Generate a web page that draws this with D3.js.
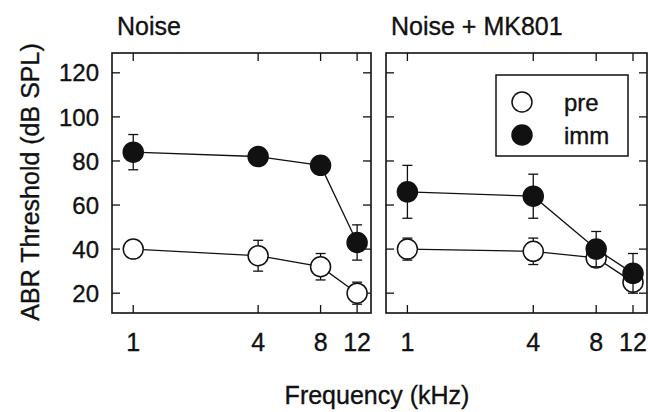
<!DOCTYPE html>
<html>
<head>
<meta charset="utf-8">
<script src="https://cdn.jsdelivr.net/npm/d3@7"></script>
<style>
  body { margin: 0; background: #fff; }
  text { font-family: "Liberation Sans", Arial, sans-serif; fill: #111; stroke: #111; stroke-width: 0.35px; }
</style>
</head>
<body>
<script>
// frequencies (kHz) and thresholds
const freqs = [1, 4, 8, 12];
const yTicks = [20, 40, 60, 80, 100, 120];

const noisePre    = [40, 37, 32, 20];
const noisePreErr = [3, 7, 6, 5];
const noiseImm    = [84, 82, 78, 43];
const noiseImmErr = [8, 3, 3, 8];

const mkPre    = [40, 39, 36, 25];
const mkPreErr = [5, 6, 4, 4];
const mkImm    = [66, 64, 40, 29];
const mkImmErr = [12, 10, 8, 9];

const panels = [
  { title: "Noise", x0: 112, x1: 371, pre: noisePre, preErr: noisePreErr, imm: noiseImm, immErr: noiseImmErr, yLabels: true, legend: false },
  { title: "Noise + MK801", x0: 386, x1: 647, pre: mkPre, preErr: mkPreErr, imm: mkImm, immErr: mkImmErr, yLabels: false, legend: true }
];

const W = 648, H = 412;
const plotTop = 53, plotBottom = 313;
const TICK = 8, R = 10;

const svg = d3.select("body").append("svg")
  .attr("width", W)
  .attr("height", H);

const y = d3.scaleLinear().domain([11, 129]).range([plotBottom, plotTop]);

panels.forEach(p => {
  const x = d3.scaleLog().domain([0.79, 14]).range([p.x0, p.x1]);
  const g = svg.append("g");

  // frame
  g.append("rect")
    .attr("x", p.x0).attr("y", plotTop)
    .attr("width", p.x1 - p.x0).attr("height", plotBottom - plotTop)
    .attr("fill", "none").attr("stroke", "#111").attr("stroke-width", 1.6);

  // inward ticks on all four sides
  g.selectAll(".xtb").data(freqs).enter().append("line")
    .attr("x1", d => x(d)).attr("x2", d => x(d))
    .attr("y1", plotBottom).attr("y2", plotBottom - TICK)
    .attr("stroke", "#111").attr("stroke-width", 1.3);
  g.selectAll(".xtt").data(freqs).enter().append("line")
    .attr("x1", d => x(d)).attr("x2", d => x(d))
    .attr("y1", plotTop).attr("y2", plotTop + TICK)
    .attr("stroke", "#111").attr("stroke-width", 1.3);
  g.selectAll(".ytl").data(yTicks).enter().append("line")
    .attr("x1", p.x0).attr("x2", p.x0 + TICK)
    .attr("y1", d => y(d)).attr("y2", d => y(d))
    .attr("stroke", "#111").attr("stroke-width", 1.3);
  g.selectAll(".ytr").data(yTicks).enter().append("line")
    .attr("x1", p.x1).attr("x2", p.x1 - TICK)
    .attr("y1", d => y(d)).attr("y2", d => y(d))
    .attr("stroke", "#111").attr("stroke-width", 1.3);

  // x tick labels
  g.selectAll(".xl").data(freqs).enter().append("text")
    .attr("x", d => x(d)).attr("y", 351)
    .attr("text-anchor", "middle")
    .style("font-size", "25px")
    .text(d => d);

  if (p.yLabels) {
    g.selectAll(".yl").data(yTicks).enter().append("text")
      .attr("x", p.x0 - 13).attr("y", d => y(d))
      .attr("dy", "0.36em")
      .attr("text-anchor", "end")
      .style("font-size", "24px")
      .text(d => d);
  }

  // panel title
  g.append("text")
    .attr("x", p.x0 + 5).attr("y", 35)
    .style("font-size", "25px")
    .text(p.title);

  const line = d3.line().x((d, i) => x(freqs[i])).y(d => y(d));

  const drawSeries = (vals, errs, fill) => {
    g.append("path").datum(vals)
      .attr("d", line)
      .attr("fill", "none").attr("stroke", "#111").attr("stroke-width", 1.3);
    const eb = g.append("g");
    vals.forEach((v, i) => {
      const cx = x(freqs[i]);
      eb.append("line")
        .attr("x1", cx).attr("x2", cx)
        .attr("y1", y(v - errs[i])).attr("y2", y(v + errs[i]))
        .attr("stroke", "#111").attr("stroke-width", 1.3);
      [v - errs[i], v + errs[i]].forEach(e => {
        eb.append("line")
          .attr("x1", cx - 5).attr("x2", cx + 5)
          .attr("y1", y(e)).attr("y2", y(e))
          .attr("stroke", "#111").attr("stroke-width", 1.3);
      });
    });
    g.selectAll(null).data(vals).enter().append("circle")
      .attr("cx", (d, i) => x(freqs[i]))
      .attr("cy", d => y(d))
      .attr("r", R)
      .attr("fill", fill)
      .attr("stroke", "#111").attr("stroke-width", 1.5);
  };

  drawSeries(p.pre, p.preErr, "#fff");
  drawSeries(p.imm, p.immErr, "#111");

  if (p.legend) {
    const lg = g.append("g");
    lg.append("rect")
      .attr("x", 496).attr("y", 75).attr("width", 132).attr("height", 81)
      .attr("fill", "#fff").attr("stroke", "#111").attr("stroke-width", 1.5);
    [["pre", "#fff", 102], ["imm", "#111", 135]].forEach(([lab, fill, ly]) => {
      lg.append("circle").attr("cx", 522).attr("cy", ly).attr("r", R)
        .attr("fill", fill).attr("stroke", "#111").attr("stroke-width", 1.5);
      lg.append("text").attr("x", 564).attr("y", ly).attr("dy", "0.36em")
        .style("font-size", "24px").text(lab);
    });
  }
});

// axis titles
svg.append("text")
  .attr("transform", "translate(39,182) rotate(-90)")
  .attr("text-anchor", "middle")
  .style("font-size", "25px")
  .text("ABR Threshold (dB SPL)");

svg.append("text")
  .attr("x", 377).attr("y", 404)
  .attr("text-anchor", "middle")
  .style("font-size", "25px")
  .text("Frequency (kHz)");
</script>
</body>
</html>
